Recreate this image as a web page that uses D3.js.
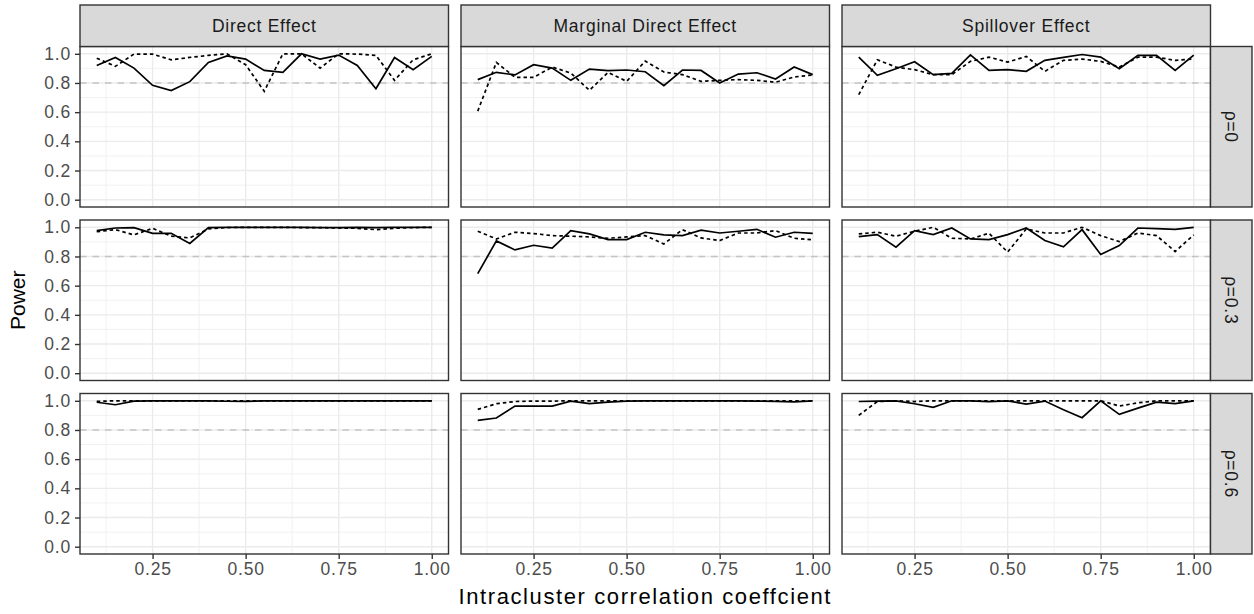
<!DOCTYPE html>
<html>
<head>
<meta charset="utf-8">
<script src="https://cdn.jsdelivr.net/npm/d3@7"></script>
<style>
  body { margin: 0; background: #fff; }
  svg text { font-family: "Liberation Sans", Arial, sans-serif; }
</style>
</head>
<body>
<div class="facetChart"></div>
<script>
// x values (intracluster correlation)
const icc = [0.10, 0.15, 0.20, 0.25, 0.30, 0.35, 0.40, 0.45, 0.50, 0.55,
             0.60, 0.65, 0.70, 0.75, 0.80, 0.85, 0.90, 0.95, 1.00];

const effectLabels = ["Direct Effect", "Marginal Direct Effect", "Spillover Effect"];
const rhoLabels = ["\u03c1=0", "\u03c1=0.3", "\u03c1=0.6"];

const xTicks = [0.25, 0.50, 0.75, 1.00];
const yTicks = [0.0, 0.2, 0.4, 0.6, 0.8, 1.0];

// rho = 0
const direct_r0_solid = [0.920, 0.975, 0.902, 0.784, 0.748, 0.809, 0.941, 0.986, 0.964, 0.886,
                         0.873, 1.000, 0.964, 0.991, 0.920, 0.761, 0.975, 0.891, 0.982];
const direct_r0_dot   = [0.970, 0.914, 0.998, 0.998, 0.959, 0.975, 0.989, 1.000, 0.925, 0.743,
                         1.000, 1.000, 0.902, 1.000, 0.998, 0.989, 0.818, 0.959, 1.000];
const marginal_r0_solid = [0.823, 0.873, 0.855, 0.925, 0.902, 0.818, 0.895, 0.884, 0.889, 0.877,
                           0.782, 0.889, 0.886, 0.800, 0.861, 0.870, 0.827, 0.909, 0.857];
const marginal_r0_dot   = [0.607, 0.941, 0.839, 0.839, 0.909, 0.868, 0.750, 0.873, 0.811, 0.950,
                           0.875, 0.857, 0.811, 0.818, 0.823, 0.818, 0.805, 0.841, 0.855];
const spill_r0_solid = [0.977, 0.852, 0.898, 0.945, 0.857, 0.866, 0.993, 0.886, 0.891, 0.880,
                        0.955, 0.975, 0.995, 0.977, 0.898, 0.989, 0.989, 0.886, 0.991];
const spill_r0_dot   = [0.720, 0.959, 0.909, 0.891, 0.857, 0.857, 0.948, 0.977, 0.943, 0.982,
                        0.880, 0.955, 0.964, 0.948, 0.909, 0.977, 0.977, 0.955, 0.964];

// rho = 0.3
const direct_r3_solid = [0.977, 0.995, 0.998, 0.959, 0.959, 0.889, 0.998, 1.000, 1.000, 1.000,
                         1.000, 1.000, 0.998, 0.998, 1.000, 0.998, 1.000, 1.000, 1.000];
const direct_r3_dot   = [0.970, 0.984, 0.948, 0.993, 0.939, 0.927, 0.989, 0.998, 1.000, 1.000,
                         1.000, 0.998, 0.998, 0.995, 0.993, 0.984, 0.993, 0.998, 1.000];
const marginal_r3_solid = [0.682, 0.907, 0.845, 0.877, 0.857, 0.977, 0.955, 0.916, 0.916, 0.966,
                           0.948, 0.943, 0.980, 0.961, 0.973, 0.986, 0.932, 0.966, 0.959];
const marginal_r3_dot   = [0.973, 0.920, 0.966, 0.957, 0.943, 0.939, 0.934, 0.925, 0.934, 0.943,
                           0.886, 0.984, 0.927, 0.909, 0.961, 0.961, 0.977, 0.925, 0.914];
const spill_r3_solid = [0.936, 0.950, 0.864, 0.977, 0.950, 0.995, 0.920, 0.916, 0.950, 0.995,
                        0.909, 0.866, 0.984, 0.814, 0.875, 0.995, 0.991, 0.986, 1.000];
const spill_r3_dot   = [0.955, 0.966, 0.939, 0.973, 1.000, 0.925, 0.920, 0.959, 0.830, 0.989,
                        0.961, 0.961, 1.000, 0.943, 0.902, 0.961, 0.943, 0.834, 0.948];

// rho = 0.6
const direct_r6_solid = [0.990, 0.973, 0.998, 1.000, 1.000, 1.000, 1.000, 0.997, 0.996, 1.000,
                         1.000, 1.000, 1.000, 1.000, 1.000, 1.000, 1.000, 1.000, 1.000];
const direct_r6_dot   = [0.996, 1.000, 1.000, 1.000, 1.000, 1.000, 1.000, 1.000, 1.000, 1.000,
                         1.000, 1.000, 1.000, 1.000, 1.000, 1.000, 1.000, 1.000, 1.000];
const marginal_r6_solid = [0.866, 0.882, 0.964, 0.964, 0.964, 0.998, 0.980, 0.991, 0.998, 1.000,
                           1.000, 1.000, 1.000, 1.000, 1.000, 0.998, 0.996, 0.993, 1.000];
const marginal_r6_dot   = [0.941, 0.980, 0.995, 0.998, 0.998, 1.000, 1.000, 1.000, 1.000, 1.000,
                           1.000, 1.000, 1.000, 1.000, 1.000, 1.000, 1.000, 1.000, 1.000];
const spill_r6_solid = [0.995, 0.998, 1.000, 0.980, 0.955, 1.000, 1.000, 0.995, 1.000, 0.977,
                        0.998, 0.939, 0.884, 1.000, 0.907, 0.950, 0.991, 0.980, 1.000];
const spill_r6_dot   = [0.900, 0.995, 1.000, 0.995, 1.000, 1.000, 1.000, 1.000, 1.000, 1.000,
                        1.000, 1.000, 1.000, 1.000, 0.964, 0.986, 1.000, 1.000, 1.000];

const targetPower = 0.8;

// panels[row][col] = [solid, dotted]
const panels = [
  [[direct_r0_solid, direct_r0_dot], [marginal_r0_solid, marginal_r0_dot], [spill_r0_solid, spill_r0_dot]],
  [[direct_r3_solid, direct_r3_dot], [marginal_r3_solid, marginal_r3_dot], [spill_r3_solid, spill_r3_dot]],
  [[direct_r6_solid, direct_r6_dot], [marginal_r6_solid, marginal_r6_dot], [spill_r6_solid, spill_r6_dot]]
];

const width = 1254, height = 614;
const marginLeft = 80, marginTop = 46.5;
const panelW = 368.5, panelH = 160.5, gapX = 12.5, gapY = 13;
const stripH = 41.5, stripW = 41.5;

const svg = d3.select(".facetChart")
  .append("svg")
  .attr("width", width)
  .attr("height", height);

const x = d3.scaleLinear().domain([0.055, 1.045]).range([0, panelW]);
const y = d3.scaleLinear().domain([-0.05, 1.05]).range([panelH, 0]);

const line = d3.line()
  .x(function(d, i) { return x(icc[i]); })
  .y(function(d) { return y(d); });

const xMinor = [0.125, 0.375, 0.625, 0.875];
const yMinor = [0.1, 0.3, 0.5, 0.7, 0.9];

panels.forEach(function(row, r) {
  row.forEach(function(series, c) {
    const px = marginLeft + c * (panelW + gapX);
    const py = marginTop + r * (panelH + gapY);
    const g = svg.append("g").attr("transform", "translate(" + px + "," + py + ")");

    // grid
    g.selectAll(".ymin").data(yMinor).enter().append("line")
      .attr("x1", 0).attr("x2", panelW)
      .attr("y1", d => y(d)).attr("y2", d => y(d))
      .attr("stroke", "#ebebeb").attr("stroke-width", 0.7);
    g.selectAll(".xmin").data(xMinor).enter().append("line")
      .attr("y1", 0).attr("y2", panelH)
      .attr("x1", d => x(d)).attr("x2", d => x(d))
      .attr("stroke", "#ebebeb").attr("stroke-width", 0.7);
    g.selectAll(".ymaj").data(yTicks).enter().append("line")
      .attr("x1", 0).attr("x2", panelW)
      .attr("y1", d => y(d)).attr("y2", d => y(d))
      .attr("stroke", "#ebebeb").attr("stroke-width", 1.4);
    g.selectAll(".xmaj").data(xTicks).enter().append("line")
      .attr("y1", 0).attr("y2", panelH)
      .attr("x1", d => x(d)).attr("x2", d => x(d))
      .attr("stroke", "#ebebeb").attr("stroke-width", 1.4);

    // target power line
    g.append("line")
      .attr("x1", 0).attr("x2", panelW)
      .attr("y1", y(targetPower)).attr("y2", y(targetPower))
      .attr("stroke", "#c4c4c4").attr("stroke-width", 1.5)
      .attr("stroke-dasharray", "6.5,6");

    g.append("path")
      .attr("d", line(series[1]))
      .attr("fill", "none").attr("stroke", "#000")
      .attr("stroke-width", 1.7).attr("stroke-dasharray", "3.5,3");
    g.append("path")
      .attr("d", line(series[0]))
      .attr("fill", "none").attr("stroke", "#000")
      .attr("stroke-width", 1.7);

    g.append("rect")
      .attr("width", panelW).attr("height", panelH)
      .attr("fill", "none").attr("stroke", "#333").attr("stroke-width", 1.4);

    // y axis on first column
    if (c === 0) {
      const yAxis = d3.axisLeft(y).tickValues(yTicks).tickFormat(d3.format(".1f"))
        .tickSize(5).tickPadding(4);
      const ya = g.append("g").attr("class", "axis").call(yAxis);
      ya.select(".domain").remove();
    }
    // x axis on last row
    if (r === panels.length - 1) {
      const xAxis = d3.axisBottom(x).tickValues(xTicks).tickFormat(d3.format(".2f"))
        .tickSize(5).tickPadding(4);
      const xa = g.append("g").attr("class", "axis")
        .attr("transform", "translate(0," + panelH + ")").call(xAxis);
      xa.select(".domain").remove();
    }

    // top strips
    if (r === 0) {
      svg.append("rect")
        .attr("x", px).attr("y", marginTop - stripH)
        .attr("width", panelW).attr("height", stripH)
        .attr("fill", "#d9d9d9").attr("stroke", "#333").attr("stroke-width", 1.4);
      svg.append("text")
        .attr("x", px + panelW / 2).attr("y", marginTop - stripH / 2)
        .attr("dy", "0.35em")
        .attr("text-anchor", "middle")
        .attr("fill", "#1a1a1a")
        .style("font-size", "17.5px").style("letter-spacing", "0.75px")
        .text(effectLabels[c]);
    }
    // right strips
    if (c === row.length - 1) {
      const sx = px + panelW;
      svg.append("rect")
        .attr("x", sx).attr("y", py)
        .attr("width", stripW).attr("height", panelH)
        .attr("fill", "#d9d9d9").attr("stroke", "#333").attr("stroke-width", 1.4);
      svg.append("text")
        .attr("transform", "translate(" + (sx + stripW / 2) + "," + (py + panelH / 2) + ") rotate(90)")
        .attr("dy", "0.35em")
        .attr("text-anchor", "middle")
        .attr("fill", "#1a1a1a")
        .style("font-size", "17.5px").style("letter-spacing", "0.75px")
        .text(rhoLabels[r]);
    }
  });
});

svg.selectAll(".axis text")
  .attr("fill", "#4d4d4d")
  .style("font-size", "17.5px")
  .style("letter-spacing", "0.8px");
svg.selectAll(".axis line").attr("stroke", "#333").attr("stroke-width", 1.4);

const plotBottom = marginTop + 3 * panelH + 2 * gapY;
svg.append("text")
  .attr("x", marginLeft + (3 * panelW + 2 * gapX) / 2)
  .attr("y", plotBottom + 50)
  .attr("text-anchor", "middle")
  .style("font-size", "22px").style("letter-spacing", "1.6px")
  .text("Intracluster correlation coeffcient");

svg.append("text")
  .attr("transform", "translate(25," + (marginTop + (3 * panelH + 2 * gapY) / 2) + ") rotate(-90)")
  .attr("text-anchor", "middle")
  .style("font-size", "21px")
  .text("Power");
</script>
</body>
</html>
